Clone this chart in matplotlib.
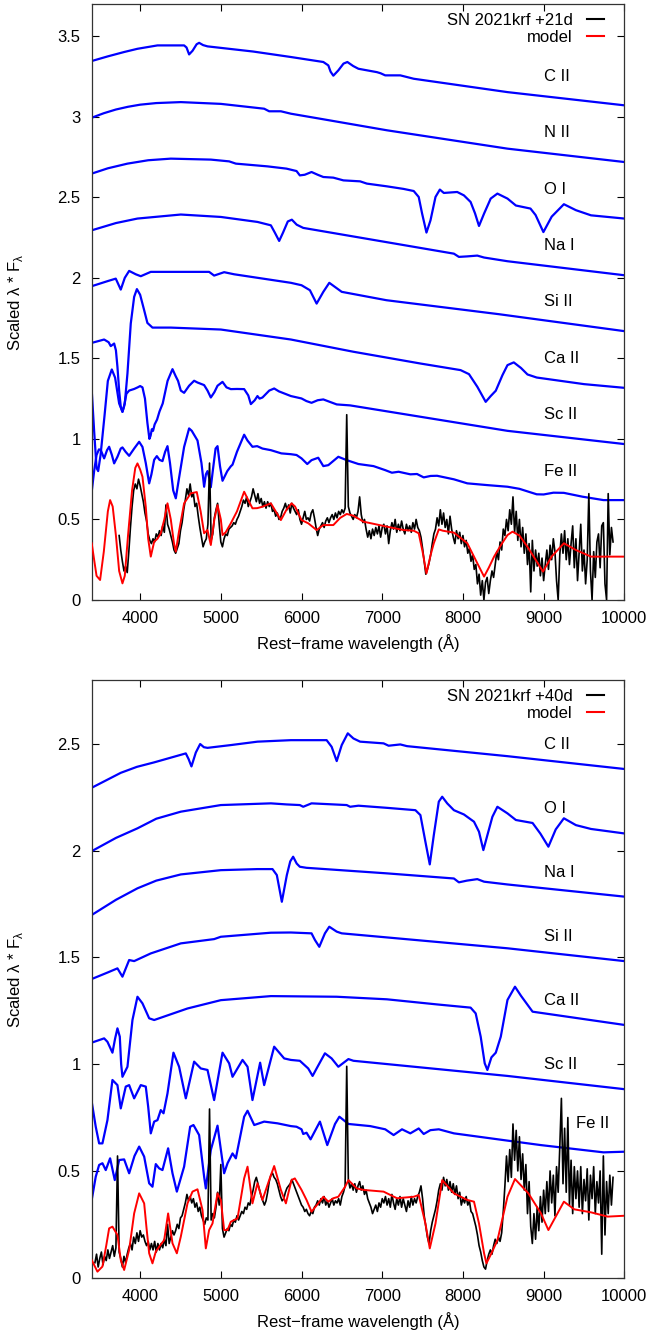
import numpy as np
import matplotlib
matplotlib.use("Agg")
import matplotlib.pyplot as plt
from matplotlib.lines import Line2D
from matplotlib.ticker import FuncFormatter

plt.rcParams['font.family'] = ['Liberation Sans', 'DejaVu Sans']
plt.rcParams['mathtext.fontset'] = 'custom'
plt.rcParams['mathtext.rm'] = 'Liberation Sans'

# ---------------- +21d panel: synthetic ion spectra (wavelength, scaled flux) ----------------
cII_21 = [(3400, 3.346), (3600, 3.375), (3802, 3.402), (3967, 3.422), (4215, 3.443), (4545, 3.443),
          (4575, 3.43), (4607, 3.387), (4650, 3.41), (4700, 3.45), (4731, 3.459), (4780, 3.445),
          (4835, 3.437), (5400, 3.405), (5868, 3.371), (6270, 3.340), (6332, 3.319), (6360, 3.28),
          (6394, 3.255), (6456, 3.288), (6520, 3.33), (6568, 3.340), (6640, 3.315), (6705, 3.298),
          (6934, 3.277), (6980, 3.27), (7037, 3.257), (7224, 3.257), (7390, 3.236), (8552, 3.153),
          (10000, 3.071)]
nII_21 = [(3400, 2.994), (3550, 3.022), (3700, 3.045), (3850, 3.062), (4000, 3.075), (4200, 3.085),
          (4504, 3.091), (5000, 3.08), (5537, 3.050), (5599, 3.034), (5744, 3.034), (5868, 3.019),
          (6228, 2.988), (7058, 2.916), (8552, 2.802), (10000, 2.719)]
oI_21 = [(3400, 2.647), (3600, 2.68), (3843, 2.709), (4100, 2.73), (4380, 2.740), (4876, 2.734),
         (5103, 2.723), (5186, 2.709), (5578, 2.692), (5813, 2.678), (5938, 2.663), (5979, 2.636),
         (6040, 2.64), (6124, 2.657), (6200, 2.64), (6270, 2.626), (6394, 2.622), (6519, 2.605),
         (6726, 2.599), (6809, 2.585), (7058, 2.568), (7265, 2.552), (7390, 2.539), (7452, 2.502),
         (7494, 2.399), (7548, 2.281), (7598, 2.357), (7660, 2.502), (7714, 2.548), (7763, 2.527),
         (7929, 2.533), (8012, 2.512), (8095, 2.471), (8150, 2.40), (8199, 2.322), (8262, 2.399),
         (8344, 2.492), (8427, 2.523), (8552, 2.492), (8656, 2.449), (8837, 2.430), (8900, 2.39),
         (8997, 2.284), (9100, 2.38), (9251, 2.457), (9400, 2.42), (9587, 2.388), (10000, 2.368)]
naI_21 = [(3400, 2.295), (3700, 2.34), (3967, 2.368), (4504, 2.393), (5000, 2.378), (5454, 2.347),
          (5620, 2.326), (5670, 2.28), (5723, 2.229), (5770, 2.28), (5830, 2.35), (5880, 2.361),
          (5940, 2.33), (6021, 2.310), (7888, 2.150), (7950, 2.130), (8050, 2.133), (8178, 2.138),
          (8262, 2.126), (8552, 2.103), (10000, 2.016)]
siII_21 = [(3400, 1.948), (3600, 1.98), (3698, 1.995), (3730, 1.96), (3760, 1.927), (3810, 2.00),
           (3864, 2.043), (3946, 2.022), (4008, 2.010), (4132, 2.037), (4855, 2.037), (4917, 2.014),
           (5041, 2.035), (5165, 2.022), (5868, 1.969), (6000, 1.954), (6104, 1.923), (6187, 1.840),
           (6270, 1.913), (6344, 1.969), (6498, 1.913), (7052, 1.861), (8449, 1.774), (10000, 1.669)]
caII_21 = [(3400, 1.596), (3554, 1.617), (3610, 1.60), (3636, 1.576), (3678, 1.592), (3700, 1.55),
           (3719, 1.447), (3740, 1.30), (3760, 1.20), (3781, 1.168), (3810, 1.220), (3843, 1.406),
           (3884, 1.716), (3926, 1.882), (3960, 1.93), (4000, 1.895), (4050, 1.799), (4090, 1.72),
           (4153, 1.691), (4380, 1.691), (5000, 1.679), (5868, 1.617), (6643, 1.541), (7473, 1.468),
           (7971, 1.427), (8075, 1.402), (8179, 1.323), (8282, 1.230), (8344, 1.266), (8407, 1.299),
           (8490, 1.396), (8552, 1.458), (8630, 1.475), (8720, 1.44), (8800, 1.40), (8914, 1.381),
           (9500, 1.34), (10000, 1.317)]
scII_21 = [(3400, 1.303), (3430, 1.05), (3460, 0.82), (3480, 0.80), (3510, 0.90), (3560, 1.15),
           (3600, 1.36), (3649, 1.431), (3690, 1.38), (3740, 1.22), (3781, 1.168), (3800, 1.20),
           (3830, 1.28), (3864, 1.30), (3926, 1.31), (3970, 1.32), (4000, 1.328), (4029, 1.32),
           (4060, 1.25), (4090, 1.10), (4115, 1.00), (4130, 1.02), (4145, 1.06), (4160, 1.05),
           (4180, 1.09), (4210, 1.12), (4240, 1.17), (4280, 1.22), (4340, 1.36), (4401, 1.433),
           (4440, 1.39), (4470, 1.36), (4504, 1.30), (4545, 1.286), (4607, 1.33), (4669, 1.361),
           (4711, 1.35), (4793, 1.334), (4835, 1.30), (4876, 1.257), (4920, 1.29), (4959, 1.33),
           (5021, 1.354), (5070, 1.32), (5124, 1.309), (5200, 1.31), (5289, 1.309), (5340, 1.27),
           (5372, 1.216), (5420, 1.24), (5454, 1.266), (5480, 1.25), (5516, 1.257), (5600, 1.30),
           (5661, 1.313), (5720, 1.295), (5868, 1.266), (6000, 1.251), (6060, 1.235), (6124, 1.224),
           (6200, 1.24), (6270, 1.245), (6350, 1.23), (6436, 1.214), (6602, 1.208), (8552, 1.050),
           (10000, 0.968)]
feII_21 = [(3400, 0.672), (3430, 0.80), (3460, 0.90), (3490, 0.935), (3512, 0.931), (3554, 0.879),
           (3590, 0.93), (3616, 0.951), (3650, 0.90), (3678, 0.848), (3720, 0.89), (3760, 0.94),
           (3781, 0.947), (3820, 0.92), (3864, 0.895), (3926, 0.94), (3988, 0.982), (4029, 0.95),
           (4070, 0.85), (4112, 0.724), (4140, 0.78), (4174, 0.87), (4207, 0.893), (4240, 0.87),
           (4277, 0.862), (4310, 0.92), (4339, 0.955), (4370, 0.85), (4410, 0.68), (4442, 0.631),
           (4480, 0.75), (4545, 0.95), (4607, 1.065), (4640, 1.05), (4711, 0.99), (4760, 0.85),
           (4793, 0.703), (4815, 0.78), (4835, 0.80), (4860, 0.75), (4876, 0.700), (4900, 0.80),
           (4935, 0.94), (4959, 0.955), (4990, 0.83), (5021, 0.740), (5080, 0.80), (5124, 0.83),
           (5145, 0.84), (5200, 0.92), (5289, 1.026), (5330, 0.99), (5392, 0.951), (5450, 0.955),
           (5516, 0.94), (5620, 0.930), (5750, 0.91), (5868, 0.905), (5938, 0.900), (6000, 0.879),
           (6071, 0.844), (6124, 0.868), (6207, 0.883), (6270, 0.831), (6332, 0.837), (6456, 0.889),
           (6560, 0.868), (6705, 0.844), (6892, 0.831), (7037, 0.806), (7120, 0.790), (7203, 0.796),
           (7348, 0.780), (7431, 0.782), (7514, 0.761), (7600, 0.77), (7680, 0.771), (7888, 0.749),
           (8054, 0.724), (8303, 0.713), (8552, 0.703), (8700, 0.69), (8914, 0.656), (9000, 0.655),
           (9121, 0.666), (9250, 0.665), (9483, 0.641), (9742, 0.620), (10000, 0.620)]
model_21 = [(3400, 0.352), (3430, 0.25), (3460, 0.15), (3504, 0.124), (3550, 0.30), (3600, 0.55),
            (3628, 0.620), (3660, 0.58), (3700, 0.40), (3740, 0.18), (3781, 0.103), (3810, 0.15),
            (3850, 0.40), (3900, 0.68), (3940, 0.82), (3967, 0.848), (4000, 0.81), (4029, 0.765),
            (4070, 0.579), (4100, 0.38), (4132, 0.269), (4174, 0.362), (4215, 0.38), (4256, 0.414),
            (4300, 0.50), (4339, 0.600), (4380, 0.50), (4420, 0.35), (4442, 0.300), (4480, 0.42),
            (4545, 0.600), (4628, 0.662), (4702, 0.670), (4750, 0.55), (4793, 0.414), (4835, 0.434),
            (4876, 0.341), (4920, 0.50), (4959, 0.589), (5000, 0.50), (5021, 0.403), (5060, 0.42),
            (5124, 0.476), (5200, 0.55), (5289, 0.672), (5340, 0.62), (5392, 0.569), (5450, 0.57),
            (5516, 0.579), (5620, 0.600), (5680, 0.55), (5744, 0.496), (5813, 0.56), (5876, 0.600),
            (5920, 0.58), (6000, 0.496), (6083, 0.476), (6187, 0.434), (6270, 0.465), (6394, 0.465),
            (6480, 0.51), (6560, 0.534), (6643, 0.523), (6768, 0.486), (7058, 0.455), (7265, 0.434),
            (7390, 0.430), (7452, 0.414), (7500, 0.30), (7548, 0.165), (7600, 0.28), (7639, 0.352),
            (7701, 0.438), (7750, 0.43), (7888, 0.418), (8054, 0.352), (8179, 0.227), (8262, 0.145),
            (8320, 0.20), (8386, 0.269), (8470, 0.34), (8552, 0.403), (8614, 0.424), (8700, 0.40),
            (8800, 0.33), (8900, 0.25), (8992, 0.176), (9100, 0.27), (9251, 0.352), (9400, 0.31),
            (9587, 0.269), (10000, 0.269)]

# observed +21d spectrum, 20 A steps from 3740 A (one row = 200 A)
obs21_start = 3740
obs21_flux = [
    0.40, 0.31, 0.24, 0.18, 0.21, 0.17, 0.30, 0.45, 0.58, 0.68,   # 3740
    0.72, 0.69, 0.75, 0.71, 0.66, 0.61, 0.54, 0.49, 0.41, 0.37,   # 3940
    0.35, 0.38, 0.36, 0.41, 0.39, 0.43, 0.40, 0.46, 0.42, 0.59,   # 4140
    0.47, 0.44, 0.40, 0.36, 0.31, 0.29, 0.32, 0.35, 0.43, 0.48,   # 4340
    0.56, 0.62, 0.69, 0.65, 0.72, 0.64, 0.66, 0.58, 0.60, 0.52,   # 4540
    0.45, 0.39, 0.33, 0.36, 0.38, 0.47, 0.85, 0.37, 0.41, 0.51,   # 4740
    0.56, 0.60, 0.47, 0.36, 0.33, 0.38, 0.41, 0.40, 0.44, 0.45,   # 4940
    0.46, 0.48, 0.47, 0.50, 0.52, 0.55, 0.58, 0.62, 0.60, 0.64,   # 5140
    0.58, 0.61, 0.64, 0.69, 0.65, 0.61, 0.66, 0.60, 0.63, 0.58,   # 5340
    0.61, 0.57, 0.61, 0.58, 0.60, 0.55, 0.56, 0.52, 0.54, 0.50,   # 5540
    0.51, 0.55, 0.57, 0.60, 0.56, 0.59, 0.54, 0.60, 0.57, 0.55,   # 5740
    0.53, 0.56, 0.50, 0.47, 0.51, 0.55, 0.50, 0.51, 0.49, 0.54,   # 5940
    0.56, 0.51, 0.45, 0.40, 0.44, 0.46, 0.48, 0.45, 0.49, 0.51,   # 6140
    0.48, 0.51, 0.53, 0.50, 0.54, 0.51, 0.55, 0.53, 0.56, 0.54,   # 6340
    0.57, 1.15, 0.58, 0.54, 0.52, 0.50, 0.53, 0.51, 0.55, 0.64,   # 6540
    0.53, 0.48, 0.50, 0.44, 0.39, 0.43, 0.38, 0.44, 0.40, 0.45,   # 6740
    0.41, 0.46, 0.39, 0.45, 0.47, 0.41, 0.46, 0.35, 0.43, 0.48,   # 6940
    0.44, 0.50, 0.42, 0.47, 0.43, 0.49, 0.44, 0.41, 0.47, 0.43,   # 7140
    0.46, 0.42, 0.48, 0.44, 0.50, 0.45, 0.43, 0.39, 0.32, 0.24,   # 7340
    0.16, 0.19, 0.23, 0.28, 0.35, 0.41, 0.44, 0.51, 0.46, 0.56,   # 7540
    0.47, 0.54, 0.45, 0.50, 0.41, 0.52, 0.44, 0.39, 0.35, 0.43,   # 7740
    0.38, 0.42, 0.35, 0.40, 0.33, 0.37, 0.29, 0.32, 0.24, 0.28,   # 7940
    0.19, 0.22, 0.10, 0.16, 0.03, 0.12, 0.00, 0.11, 0.14, 0.04,   # 8140
    0.12, 0.18, 0.14, 0.22, 0.30, 0.25, 0.36, 0.31, 0.44, 0.40,   # 8340
    0.50, 0.43, 0.56, 0.47, 0.64, 0.42, 0.55, 0.37, 0.50, 0.33,   # 8540
    0.45, 0.29, 0.41, 0.22, 0.35, 0.05, 0.37, 0.18, 0.31, 0.21,   # 8740
    0.29, 0.15, 0.26, 0.12, 0.22, 0.31, 0.19, 0.34, 0.25, 0.38,   # 8940
    0.30, 0.12, 0.00, 0.28, 0.41, 0.29, 0.43, 0.25, 0.38, 0.22,   # 9140
    0.35, 0.46, 0.20, 0.38, 0.12, 0.30, 0.47, 0.18, 0.31, 0.10,   # 9340
    0.25, 0.66, 0.18, 0.00, 0.30, 0.14, 0.36, 0.41, 0.20, 0.46,   # 9540
    0.48, 0.10, 0.00, 0.66, 0.28, 0.45, 0.36,                     # 9740
]

# ---------------- +40d panel ----------------
cII_40 = [(3400, 2.295), (3580, 2.33), (3760, 2.365), (3960, 2.393), (4174, 2.414), (4566, 2.456),
          (4600, 2.43), (4636, 2.395), (4690, 2.46), (4744, 2.500), (4790, 2.485), (4835, 2.482),
          (5124, 2.495), (5454, 2.511), (5868, 2.518), (6311, 2.518), (6373, 2.487), (6436, 2.420),
          (6498, 2.495), (6573, 2.550), (6643, 2.526), (6726, 2.511), (7017, 2.503), (7079, 2.492),
          (7224, 2.498), (7307, 2.490), (8552, 2.443), (10000, 2.383)]
oI_40 = [(3400, 1.998), (3700, 2.06), (3967, 2.105), (4200, 2.15), (4504, 2.183), (5000, 2.214),
         (5620, 2.222), (5813, 2.217), (5979, 2.214), (6021, 2.206), (6124, 2.222), (6560, 2.214),
         (6602, 2.206), (6705, 2.211), (7058, 2.201), (7411, 2.190), (7473, 2.167), (7535, 2.042),
         (7589, 1.936), (7639, 2.073), (7701, 2.230), (7743, 2.253), (7805, 2.222), (7888, 2.190),
         (8012, 2.170), (8137, 2.136), (8199, 2.089), (8253, 2.003), (8303, 2.073), (8365, 2.159),
         (8427, 2.206), (8552, 2.175), (8656, 2.144), (8863, 2.13), (8960, 2.08), (9059, 2.019),
         (9150, 2.10), (9251, 2.152), (9400, 2.12), (9587, 2.102), (10000, 2.081)]
naI_40 = [(3400, 1.699), (3700, 1.77), (3967, 1.824), (4200, 1.86), (4504, 1.889), (5000, 1.909),
          (5454, 1.914), (5640, 1.914), (5694, 1.886), (5756, 1.761), (5818, 1.886), (5860, 1.95),
          (5896, 1.972), (5940, 1.94), (5979, 1.925), (6062, 1.920), (7058, 1.894), (7888, 1.870),
          (7950, 1.852), (8050, 1.86), (8178, 1.867), (8262, 1.855), (8552, 1.842), (10000, 1.785)]
siII_40 = [(3400, 1.399), (3600, 1.43), (3719, 1.449), (3781, 1.410), (3864, 1.488), (3926, 1.483),
           (4132, 1.519), (4504, 1.566), (4917, 1.586), (5000, 1.597), (5620, 1.616), (5868, 1.617),
           (6124, 1.613), (6166, 1.582), (6220, 1.550), (6290, 1.613), (6344, 1.644), (6436, 1.621),
           (6498, 1.613), (8552, 1.543), (10000, 1.483)]
caII_40 = [(3400, 1.101), (3554, 1.121), (3595, 1.105), (3657, 1.054), (3690, 1.12), (3719, 1.168),
           (3748, 1.129), (3765, 1.00), (3781, 0.941), (3843, 0.988), (3905, 1.207), (3967, 1.316),
           (4029, 1.285), (4112, 1.215), (4174, 1.207), (4587, 1.261), (5000, 1.300), (5620, 1.319),
           (6436, 1.316), (7058, 1.304), (7680, 1.280), (8095, 1.265), (8158, 1.238), (8220, 1.129),
           (8270, 1.004), (8303, 0.973), (8353, 1.032), (8407, 1.054), (8469, 1.129), (8552, 1.301),
           (8645, 1.363), (8720, 1.32), (8863, 1.246), (10000, 1.184)]
scII_40 = [(3400, 0.824), (3450, 0.707), (3492, 0.629), (3533, 0.629), (3595, 0.738), (3657, 0.926),
           (3719, 0.902), (3760, 0.793), (3822, 0.895), (3864, 0.902), (3926, 0.840), (4008, 0.902),
           (4070, 0.895), (4100, 0.80), (4132, 0.676), (4174, 0.731), (4215, 0.738), (4256, 0.785),
           (4290, 0.770), (4339, 0.863), (4413, 1.054), (4483, 0.988), (4566, 0.840), (4669, 1.012),
           (4752, 0.980), (4835, 0.973), (4917, 0.832), (5021, 1.054), (5103, 1.004), (5145, 0.941),
           (5269, 1.020), (5331, 0.988), (5392, 0.832), (5487, 1.007), (5537, 0.902), (5661, 1.082),
           (5785, 1.027), (5868, 1.020), (5979, 1.016), (6083, 0.980), (6137, 0.945), (6187, 0.980),
           (6290, 1.051), (6373, 1.027), (6456, 0.988), (6581, 1.024), (6643, 1.016), (8552, 0.945),
           (10000, 0.883)]
feII_40 = [(3400, 0.364), (3450, 0.473), (3492, 0.528), (3533, 0.536), (3574, 0.504), (3628, 0.559),
           (3686, 0.457), (3740, 0.551), (3802, 0.554), (3864, 0.489), (3930, 0.57), (3988, 0.614),
           (4050, 0.567), (4112, 0.442), (4153, 0.426), (4194, 0.532), (4236, 0.512), (4277, 0.504),
           (4347, 0.606), (4401, 0.489), (4455, 0.403), (4545, 0.520), (4620, 0.707), (4661, 0.715),
           (4731, 0.668), (4793, 0.473), (4814, 0.418), (4876, 0.598), (4959, 0.712), (5041, 0.489),
           (5083, 0.536), (5145, 0.582), (5186, 0.559), (5289, 0.754), (5331, 0.782), (5414, 0.715),
           (5537, 0.731), (5702, 0.723), (5868, 0.710), (5938, 0.707), (6000, 0.695), (6021, 0.673),
           (6062, 0.679), (6112, 0.648), (6228, 0.731), (6319, 0.621), (6415, 0.720), (6469, 0.754),
           (6581, 0.720), (6851, 0.710), (7037, 0.695), (7141, 0.668), (7245, 0.695), (7348, 0.676),
           (7452, 0.699), (7514, 0.673), (7597, 0.691), (7701, 0.695), (7888, 0.676), (8552, 0.642),
           (8966, 0.621), (9742, 0.587), (10000, 0.590)]
model_40 = [(3400, 0.083), (3471, 0.028), (3533, 0.052), (3580, 0.15), (3616, 0.231), (3657, 0.239),
            (3719, 0.200), (3760, 0.083), (3802, 0.036), (3864, 0.130), (3926, 0.301), (3988, 0.395),
            (4050, 0.348), (4080, 0.23), (4112, 0.114), (4153, 0.067), (4194, 0.122), (4236, 0.145),
            (4298, 0.176), (4347, 0.301), (4401, 0.161), (4455, 0.114), (4504, 0.192), (4587, 0.348),
            (4649, 0.403), (4711, 0.414), (4773, 0.317), (4814, 0.137), (4855, 0.223), (4897, 0.254),
            (4959, 0.395), (5000, 0.364), (5041, 0.223), (5083, 0.223), (5124, 0.262), (5207, 0.278),
            (5289, 0.465), (5331, 0.520), (5392, 0.348), (5454, 0.442), (5516, 0.364), (5599, 0.457),
            (5661, 0.523), (5744, 0.411), (5806, 0.348), (5876, 0.457), (5917, 0.465), (6000, 0.411),
            (6062, 0.364), (6124, 0.309), (6207, 0.348), (6270, 0.379), (6332, 0.356), (6394, 0.372),
            (6456, 0.379), (6540, 0.426), (6581, 0.457), (6685, 0.418), (6768, 0.411), (7017, 0.403),
            (7183, 0.372), (7390, 0.379), (7452, 0.387), (7535, 0.254), (7589, 0.137), (7660, 0.254),
            (7743, 0.457), (7888, 0.395), (8054, 0.364), (8137, 0.356), (8199, 0.254), (8262, 0.114),
            (8291, 0.067), (8353, 0.114), (8428, 0.176), (8552, 0.379), (8645, 0.462), (8811, 0.395),
            (8966, 0.302), (9059, 0.223), (9251, 0.356), (9380, 0.32), (9587, 0.306), (9794, 0.286),
            (10000, 0.29)]

# observed +40d spectrum, 20 A steps from 3440 A (one row = 200 A)
obs40_start = 3440
obs40_flux = [
    0.07, 0.11, 0.05, 0.09, 0.12, 0.06, 0.10, 0.08, 0.13, 0.09,   # 3440
    0.12, 0.15, 0.10, 0.14, 0.57, 0.12, 0.09, 0.05, 0.10, 0.07,   # 3640
    0.11, 0.14, 0.16, 0.13, 0.19, 0.16, 0.21, 0.17, 0.22, 0.19,   # 3840
    0.20, 0.17, 0.15, 0.17, 0.13, 0.16, 0.13, 0.17, 0.12, 0.16,   # 4040
    0.13, 0.16, 0.14, 0.18, 0.15, 0.25, 0.16, 0.19, 0.22, 0.20,   # 4240
    0.22, 0.25, 0.23, 0.28, 0.29, 0.32, 0.35, 0.39, 0.36, 0.38,   # 4440
    0.35, 0.37, 0.33, 0.35, 0.31, 0.33, 0.29, 0.27, 0.25, 0.28,   # 4640
    0.27, 0.79, 0.27, 0.30, 0.28, 0.33, 0.40, 0.34, 0.53, 0.23,   # 4840
    0.19, 0.21, 0.23, 0.22, 0.25, 0.24, 0.27, 0.26, 0.29, 0.27,   # 5040
    0.29, 0.31, 0.30, 0.33, 0.32, 0.35, 0.34, 0.38, 0.41, 0.45,   # 5240
    0.47, 0.44, 0.41, 0.38, 0.36, 0.34, 0.36, 0.40, 0.45, 0.48,   # 5440
    0.49, 0.47, 0.46, 0.44, 0.41, 0.38, 0.36, 0.37, 0.40, 0.42,   # 5640
    0.43, 0.44, 0.46, 0.44, 0.42, 0.40, 0.38, 0.36, 0.34, 0.33,   # 5840
    0.31, 0.32, 0.30, 0.29, 0.31, 0.30, 0.33, 0.34, 0.36, 0.34,   # 6040
    0.37, 0.35, 0.38, 0.34, 0.36, 0.33, 0.35, 0.37, 0.34, 0.36,   # 6240
    0.35, 0.37, 0.34, 0.38, 0.40, 0.43, 0.99, 0.46, 0.42, 0.44,   # 6440
    0.41, 0.44, 0.40, 0.43, 0.45, 0.41, 0.43, 0.39, 0.41, 0.37,   # 6640
    0.35, 0.33, 0.30, 0.32, 0.34, 0.31, 0.35, 0.33, 0.37, 0.35,   # 6840
    0.38, 0.34, 0.37, 0.33, 0.39, 0.35, 0.32, 0.37, 0.34, 0.38,   # 7040
    0.33, 0.37, 0.34, 0.31, 0.36, 0.33, 0.38, 0.34, 0.37, 0.35,   # 7240
    0.38, 0.40, 0.43, 0.37, 0.29, 0.24, 0.19, 0.16, 0.22, 0.26,   # 7440
    0.29, 0.32, 0.36, 0.41, 0.44, 0.41, 0.47, 0.43, 0.46, 0.41,   # 7640
    0.45, 0.40, 0.44, 0.39, 0.43, 0.37, 0.40, 0.34, 0.37, 0.35,   # 7840
    0.38, 0.34, 0.36, 0.31, 0.30, 0.27, 0.24, 0.20, 0.15, 0.12,   # 8040
    0.08, 0.05, 0.04, 0.08, 0.11, 0.13, 0.11, 0.15, 0.18, 0.16,   # 8240
    0.19, 0.17, 0.21, 0.31, 0.43, 0.57, 0.45, 0.60, 0.47, 0.72,   # 8440
    0.55, 0.69, 0.50, 0.66, 0.46, 0.58, 0.41, 0.53, 0.30, 0.45,   # 8640
    0.24, 0.16, 0.30, 0.18, 0.33, 0.22, 0.38, 0.26, 0.41, 0.30,   # 8840
    0.45, 0.31, 0.50, 0.35, 0.48, 0.29, 0.52, 0.40, 0.61, 0.84,   # 9040
    0.44, 0.70, 0.40, 0.75, 0.34, 0.55, 0.30, 0.52, 0.37, 0.50,   # 9240
    0.33, 0.52, 0.30, 0.46, 0.36, 0.51, 0.27, 0.48, 0.37, 0.52,   # 9440
    0.30, 0.45, 0.35, 0.50, 0.11, 0.57, 0.20, 0.45, 0.30, 0.48,   # 9640
    0.34, 0.47,                                                   # 9840
]

labels_21 = ['C II', 'N II', 'O I', 'Na I', 'Si II', 'Ca II', 'Sc II', 'Fe II']
label_y_21 = [3.25, 2.90, 2.55, 2.20, 1.85, 1.50, 1.15, 0.80]
label_x_21 = [9000] * 8
labels_40 = ['C II', 'O I', 'Na I', 'Si II', 'Ca II', 'Sc II', 'Fe II']
label_y_40 = [2.50, 2.20, 1.90, 1.60, 1.30, 1.00, 0.72]
label_x_40 = [9000, 9000, 9000, 9000, 9000, 9000, 9400]

ions_21 = [cII_21, nII_21, oI_21, naI_21, siII_21, caII_21, scII_21, feII_21]
ions_40 = [cII_40, oI_40, naI_40, siII_40, caII_40, scII_40, feII_40]


def draw_panel(ax, ions, model, obs_start, obs_flux, epoch, ymax, labels, lab_x, lab_y):
    for ion in ions:
        w, f = np.array(ion).T
        ax.plot(w, f, color='#0000ff', lw=1.6, zorder=2, solid_joinstyle='round')
    obs_flux = np.array(obs_flux)
    obs_wave = obs_start + 20 * np.arange(len(obs_flux))
    ax.plot(obs_wave, obs_flux, color='black', lw=1.2, zorder=3)
    w, f = np.array(model).T
    ax.plot(w, f, color='#ff0000', lw=1.4, zorder=4, solid_joinstyle='round')

    for name, x, y in zip(labels, lab_x, lab_y):
        ax.text(x, y, name, fontsize=12, ha='left', va='center')

    ax.set_xlim(3400, 10000)
    ax.set_ylim(0, ymax)
    ax.set_xticks(range(4000, 10001, 1000))
    ax.yaxis.set_major_formatter(FuncFormatter(lambda v, p: '%g' % v))
    ax.tick_params(direction='in', length=5, width=0.8, top=True, right=True,
                   labelsize=12, pad=8)
    for s in ax.spines.values():
        s.set_linewidth(0.9)
        s.set_color('#333333')

    ax.set_xlabel('Rest\u2212frame wavelength (Å)', fontsize=12)
    ax.xaxis.set_label_coords(0.5, -0.058)
    ax.set_ylabel('Scaled λ * F$_\\mathrm{λ}$', fontsize=12)
    ax.yaxis.set_label_coords(-0.125, 0.5)

    handles = [Line2D([], [], color='black', lw=1.5), Line2D([], [], color='#ff0000', lw=1.5)]
    ax.legend(handles, ['SN 2021krf ' + epoch, 'model'], loc='upper right',
              bbox_to_anchor=(0.962, 0.985), frameon=False, markerfirst=False,
              handlelength=1.0, handletextpad=0.9, labelspacing=0.1,
              borderaxespad=0, borderpad=0, fontsize=12)


fig = plt.figure(figsize=(6.49, 13.38), dpi=100)
ax1 = fig.add_axes([0.1413, 0.5516, 0.8207, 0.4454])
ax2 = fig.add_axes([0.1413, 0.0451, 0.8207, 0.4467])

draw_panel(ax1, ions_21, model_21, obs21_start, obs21_flux, '+21d', 3.7,
           labels_21, label_x_21, label_y_21)
draw_panel(ax2, ions_40, model_40, obs40_start, obs40_flux, '+40d', 2.8,
           labels_40, label_x_40, label_y_40)

fig.savefig('out.png', dpi=100)
